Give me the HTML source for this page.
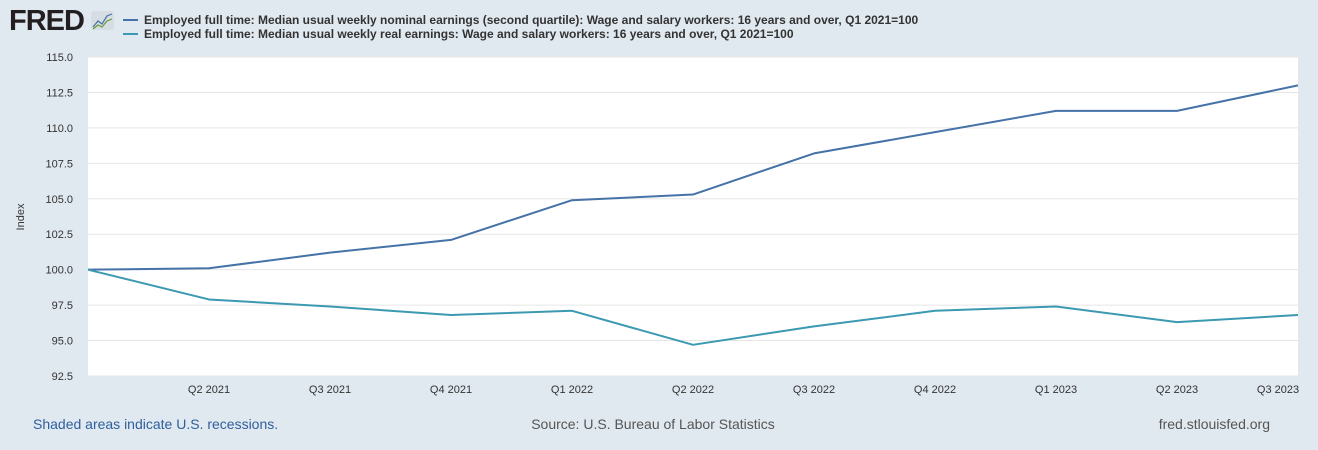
<!DOCTYPE html>
<html><head><meta charset="utf-8"><style>
body{margin:0;background:#e1e9f0;font-family:"Liberation Sans",Arial,sans-serif;}
svg{display:block}
</style></head><body>
<svg width="1318" height="450">
<rect width="1318" height="450" fill="#e1e9f0"/>
<text x="9" y="30" font-size="29" font-weight="bold" fill="#231f20" style="letter-spacing:-1px">FRED</text>
<g>
<rect x="91" y="11" width="23" height="19" rx="3" fill="#d6dde3"/>
<polyline points="93,27 98,21 102,24 107,16 112,14" fill="none" stroke="#4572a7" stroke-width="1.2"/>
<polyline points="93,29 98,25 102,27 107,21 112,19" fill="none" stroke="#6a9a3a" stroke-width="1.2"/>
</g>
<g>
<line x1="123" y1="20" x2="138" y2="20" stroke="#4572a7" stroke-width="2"/>
<text x="144" y="24" font-size="12" font-weight="bold" fill="#333">Employed full time: Median usual weekly nominal earnings (second quartile): Wage and salary workers: 16 years and over, Q1 2021=100</text>
<line x1="123" y1="34" x2="138" y2="34" stroke="#3b99b1" stroke-width="2"/>
<text x="144" y="38" font-size="12" font-weight="bold" fill="#333">Employed full time: Median usual weekly real earnings: Wage and salary workers: 16 years and over, Q1 2021=100</text>
</g>
<rect x="88" y="57" width="1210" height="319" fill="#fff"/>
<g id="grid"></g>
<g id="series"></g>
<g id="axes"></g>
<text transform="translate(24,217) rotate(-90)" text-anchor="middle" font-size="11" fill="#333">Index</text>
<text x="33" y="429" font-size="14" fill="#2f5e9c">Shaded areas indicate U.S. recessions.</text>
<text x="653" y="429" font-size="14" fill="#555" text-anchor="middle">Source: U.S. Bureau of Labor Statistics</text>
<text x="1270" y="429" font-size="14" fill="#555" text-anchor="end">fred.stlouisfed.org</text>
</svg>
<script>
const categories=["Q1 2021","Q2 2021","Q3 2021","Q4 2021","Q1 2022","Q2 2022","Q3 2022","Q4 2022","Q1 2023","Q2 2023","Q3 2023"];
const nominal=[100,100.1,101.2,102.1,104.9,105.3,108.2,109.7,111.2,111.2,113.0];
const real=[100,97.9,97.4,96.8,97.1,94.7,96.0,97.1,97.4,96.3,96.8];
const yTicks=[92.5,95,97.5,100,102.5,105,107.5,110,112.5,115];
const NS="http://www.w3.org/2000/svg";
const x0=88,x1=1298,y0=376,y1=57,yMin=92.5,yMax=115;
const xs=i=>x0+(x1-x0)*i/(categories.length-1);
const ys=v=>y0-(v-yMin)/(yMax-yMin)*(y0-y1);
function mk(t,a,p){const e=document.createElementNS(NS,t);for(const k in a)e.setAttribute(k,a[k]);p.appendChild(e);return e;}
const grid=document.getElementById('grid'),axes=document.getElementById('axes'),series=document.getElementById('series');
yTicks.forEach(v=>{
 const l=mk('line',{x1:x0,x2:x1,y1:ys(v),y2:ys(v),stroke:'#e6e6e6','stroke-width':1},grid);
 
 
 const t=mk('text',{x:73,y:ys(v)+4,'font-size':11,fill:'#333','text-anchor':'end'},axes);
 t.textContent=v.toFixed(1);
 
 
});
categories.forEach((c,i)=>{
 if(i===0)return;
 const t=mk('text',{x:xs(i)-(i===categories.length-1?20:0),y:393,'font-size':11,fill:'#333','text-anchor':'middle'},axes);
 t.textContent=c;
 
 
});
[[nominal,'#4572a7','line-nominal'],[real,'#3b99b1','line-real']].forEach(([d,c,n])=>{
 const p=mk('polyline',{points:d.map((v,i)=>xs(i)+','+ys(v)).join(' '),fill:'none',stroke:c,'stroke-width':2,'stroke-linejoin':'round'},series);
 
 
});
</script>
</body></html>
